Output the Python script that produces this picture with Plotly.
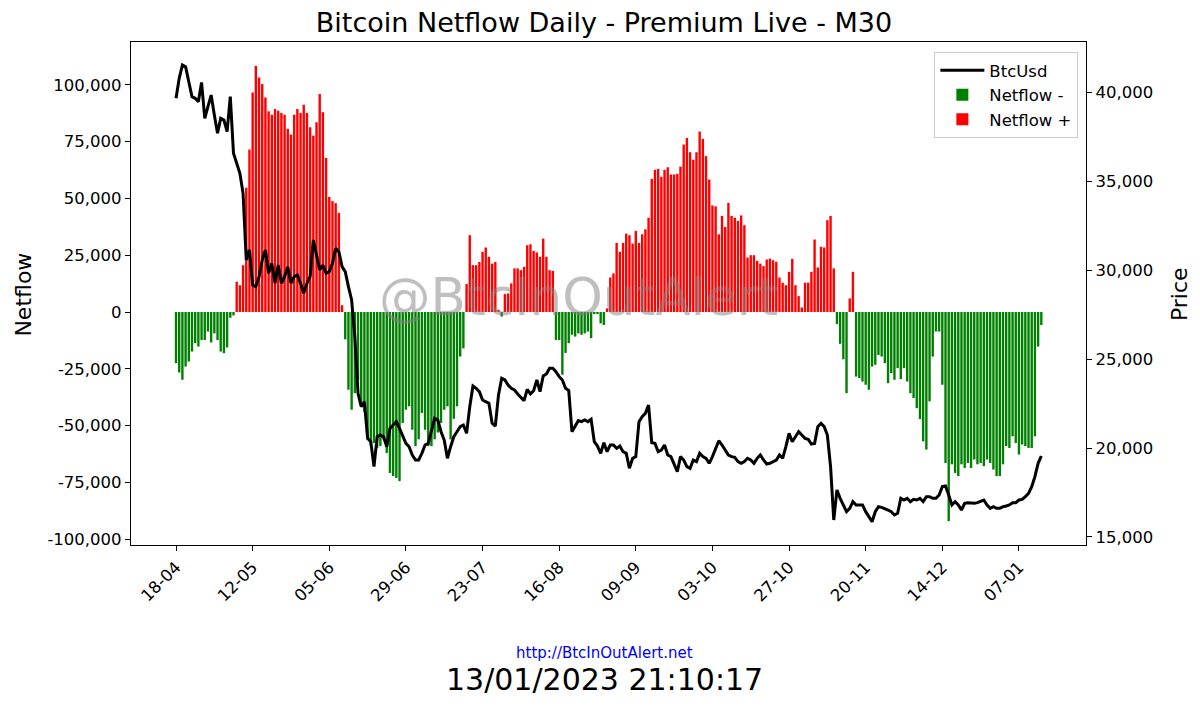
import pandas as pd
import plotly.graph_objects as go
from plotly.subplots import make_subplots

# daily netflow (thousands of BTC), first day 18-04-2022
netflow_k = [
    -22.5, -26.6, -29.8, -24, -21.8, -17.4, -13.7, -15.2, -12.3, -12.3, -8.6, -13.4, -9.4, -12.3, -17.4, -18.1, -15.6, -2.5, -1.5,
    13.3, 11.8, 20.6, 54.7, 71.5, 96.6, 108.3, 103.2, 100.3, 94.4, 88.3, 86.8, 89.3, 88.6, 87.6, 86.8, 80.6, 78.1, 86.8, 89.3,
    87.6, 91.2, 87.6, 81.3, 77.6, 83.5, 95.9, 87.9, 67.8, 50.6, 48.8, 47.9, 43.6, 3.0,
    -12, -34.2, -43, -35.7, -29.8, -41.5, -44, -56, -58.8, -57.6, -59.8, -59, -56, -62, -70.8, -72.2, -73, -74.4, -48.8,
    -43, -41.5, -51.8, -59, -56, -44.4, -51.8, -59, -59, -56, -53, -48.8, -43, -41.5, -56, -47, -41.5, -19.6, -16,
    12.3, 33.8, 20.6, 20.6, 22, 26.5, 28.4, 24.3, 21.3, 22, 1.0, -2, 7.9, 8.2, 12.6, 19.2, 19.2, 18.4, 19.9, 29.4,
    29.8, 26.9, 26.2, 24.3, 32.3, 24.3, 18.4, 18.1, -12.3, -12.3, -27.6, -18, -13.7, -10, -10.8, -9.4, -10, -9.4, -8.6, -11.5,
    -0.5, -0.5, -5, -5.7,
    1.6, 15.2, 17, 30.4, 26.5, 30.4, 34.5, 33.8, 30.1, 35.7, 30.4, 34.2, 36.4, 41.5, 58.6, 62.6, 63, 59.4, 62.6, 63.7,
    60.5, 60.5, 60.8, 64, 73.7, 76.6, 70.3, 67, 70.3, 79.4, 76.2, 68.6, 58.3, 46.9, 46.5, 34.2, 42.3, 37.4, 48, 42.3,
    41.5, 40.1, 42.5, 38.2, 24, 25,
    25, 22.5, 21.3, 20.2, 23.1, 23.5, 22.8, 22.1, 15.2, 12.9, 11.8, 17.7, 23.4, 11.8, 7, 2, 12.9, 12.9, 17.7, 31.9,
    19.6, 28.7, 28.4, 40.4, 42.3, 19.2,
    -5.3, -14, -20.8, -35.7, 6, 17.7,
    -28.4, -29.1, -30.6, -32, -34.2, -24, -23.2, -18.9, -19.6, -22.5, -31.3, -26.9, -29.8,
    -24.7, -29.5, -24.7, -30.6, -35.7, -37.9, -42.3, -47.1, -56.9, -60.5, -39.3, -19.6, -8.6, -8.6, -32, -66.4, -92, -67,
    -70.8, -72.2, -67, -68.6, -66.4, -68.6, -64.9, -67, -66.4, -67.8, -64.9, -66.4, -69.3, -72.2, -72.2, -67, -59, -59.8,
    -54.7, -57.6, -62.7, -58.3, -59, -59.8, -59.8, -54.7, -15.2, -5.7,
]

# BtcUsd daily close
price = [
    39646, 40770, 41517, 41420, 40580, 39740, 39646, 39460, 40540, 38520, 39176, 39830, 38708, 37680, 38520, 38427,
    37770, 39740, 36556, 35994, 35432, 34308, 30562, 31124, 29157, 29064, 29626, 30562, 31124, 29813, 30375, 29251,
    30281, 29251, 29626, 30187, 29251, 29626, 29719, 29251, 28690, 29251, 29626, 31686,
    30800, 30000, 30281, 29813, 29907, 30375, 31217, 31030, 30187, 29907, 29064, 28314, 26253, 23073, 22320, 22600,
    20540, 20353, 18950, 20634, 20727, 20634, 20072, 21104, 21292, 21479, 21104, 20727, 20260, 20072, 19606, 19325,
    19325, 19700, 20166, 20260, 21010, 21667, 21573, 20915, 20447, 19420, 20072, 20634, 20915, 21198,
    21292, 20825, 22320, 23483, 23354, 23166, 22697, 22600, 22510, 21386, 21236, 22978, 23916, 23820, 23540, 23354,
    23260, 23034, 22848, 22660, 23297, 23034, 23222, 23820, 23166, 24045, 24157, 24477, 24477, 24290, 24007, 23820,
    23354, 23222, 20915, 21198, 21536, 21479, 21573, 21479, 21611, 20353, 20110, 19700, 20297,
    19793, 20166, 20166, 19980, 20110, 19793, 19700, 18860, 19420, 19514, 21479, 21760, 21947, 22415, 20297, 20260,
    19793, 19887, 20166, 19606, 19514, 19140, 18670, 19514, 19326, 18953, 18860, 19326, 19233, 19700, 19514, 19420,
    19140, 19514, 19980, 20410, 20166, 19887, 19606, 19514, 19480, 19233, 19140, 19233, 19420,
    19326, 19140, 19420, 19606, 19326, 19100, 19140, 19233, 19326, 19606, 19420, 20072, 20825, 20353, 20670, 20915,
    20727, 20540, 20485, 20225, 20260, 21198, 21386, 21198, 20727, 18950, 15955, 17640, 17174, 16800, 16422, 16610,
    16984, 16800, 16800, 16800, 16422, 16140, 15860, 16422, 16703, 16666, 16610, 16516, 16422, 16235,
    16330, 17174, 17078, 17174, 16984, 17115, 17078, 17174, 16984, 17265, 17265, 17174, 17174, 17360, 17827, 17865,
    17360, 16800, 16984, 16800, 16516, 16890, 16928, 16890, 16890, 16928, 16984, 17078, 16800, 16610, 16703, 16610,
    16610, 16703, 16740, 16800, 16928, 16928, 17078, 17115, 17265, 17452, 17827, 18389, 19140, 19550,
]

x_tick_labels = ["18-04", "12-05", "05-06", "29-06", "23-07", "16-08", "09-09", "03-10", "27-10", "20-11", "14-12", "07-01"]
netflow_ticks = [-100000, -75000, -50000, -25000, 0, 25000, 50000, 75000, 100000]
price_ticks = [15000, 20000, 25000, 30000, 35000, 40000]

FONT = "DejaVu Sans"
DAY_MS = 86400000
# the page body adds an 8px margin, so the figure is 8px smaller than the window
W, H = 1192, 698

days = pd.date_range("2022-04-18", periods=len(netflow_k), freq="D")
netflow = [v * 1000 for v in netflow_k]
neg = [v if v < 0 else None for v in netflow]
pos = [v if v > 0 else None for v in netflow]
tick_dates = pd.date_range("2022-04-18", periods=len(x_tick_labels), freq="24D")


def fmt(v):
    return f"{v:,}"


fig = make_subplots(specs=[[{"secondary_y": True}]])

fig.add_trace(go.Scatter(x=days, y=price, mode="lines", name="BtcUsd",
                         line=dict(color="black", width=3)), secondary_y=True)
fig.add_trace(go.Bar(x=days, y=neg, name="Netflow -", marker=dict(color="green", line=dict(width=0)),
                     width=0.75 * DAY_MS), secondary_y=False)
fig.add_trace(go.Bar(x=days, y=pos, name="Netflow +", marker=dict(color="red", line=dict(width=0)),
                     width=0.75 * DAY_MS), secondary_y=False)

x0 = pd.Timestamp("2022-04-18") - pd.Timedelta(days=14.1)
x1 = pd.Timestamp("2022-04-18") + pd.Timedelta(days=285)

fig.update_layout(
    width=W, height=H,
    margin=dict(l=123, r=114, t=34, b=161, autoexpand=False),
    paper_bgcolor="white", plot_bgcolor="white",
    font=dict(family=FONT, size=16, color="black"),
    barmode="overlay",
    title=dict(text="Bitcoin Netflow Daily - Premium Live - M30", x=0.5, xanchor="center",
               y=1 - 15 / H, yanchor="middle", yref="container", font=dict(size=27)),
    legend=dict(x=0.992, xanchor="right", y=0.98, yanchor="top", traceorder="normal",
                bgcolor="rgba(255,255,255,0.9)", bordercolor="#cccccc", borderwidth=1,
                font=dict(size=16.5), itemwidth=44),
    showlegend=True,
)

fig.update_xaxes(type="date", domain=[0, 1], range=[x0, x1], tickvals=tick_dates, ticktext=x_tick_labels,
                 tickangle=-45, ticks="outside", ticklen=5, tickcolor="black",
                 showline=True, linecolor="black", linewidth=1.2, mirror=True,
                 showgrid=False, zeroline=False, tickfont=dict(size=16.5))

fig.update_yaxes(range=[-102500, 118800], tickvals=netflow_ticks,
                 ticktext=[fmt(v) for v in netflow_ticks], ticks="outside", ticklen=5,
                 tickcolor="black", showline=True, linecolor="black", linewidth=1.2,
                 showgrid=False, zeroline=False, tickfont=dict(size=16.5), secondary_y=False)
fig.update_yaxes(range=[14550, 42810], tickvals=price_ticks,
                 ticktext=[fmt(v) for v in price_ticks], ticks="outside", ticklen=5,
                 tickcolor="black", showline=True, linecolor="black", linewidth=1.2,
                 showgrid=False, zeroline=False, tickfont=dict(size=16.5), secondary_y=True)

# axis labels, watermark and footer
fig.add_annotation(text="Netflow", textangle=-90, xref="paper", yref="paper", x=-0.113, y=0.498,
                   xanchor="center", yanchor="middle", showarrow=False, font=dict(size=22))
fig.add_annotation(text="Price", textangle=-90, xref="paper", yref="paper", x=1.098, y=0.498,
                   xanchor="center", yanchor="middle", showarrow=False, font=dict(size=22))
fig.add_annotation(text="@BtcInOutAlert", xref="paper", yref="paper", x=0.469, y=0.493,
                   xanchor="center", yanchor="middle", showarrow=False,
                   font=dict(size=51.5, color="rgba(128,128,128,0.5)"))
fig.add_annotation(text="http://BtcInOutAlert.net", xref="paper", yref="paper", x=0.496, y=-0.2147,
                   xanchor="center", yanchor="middle", showarrow=False,
                   font=dict(size=15, color="blue"))
fig.add_annotation(text="13/01/2023 21:10:17", xref="paper", yref="paper", x=0.496, y=-0.2674,
                   xanchor="center", yanchor="middle", showarrow=False, font=dict(size=30))

fig.write_html("out.html")
